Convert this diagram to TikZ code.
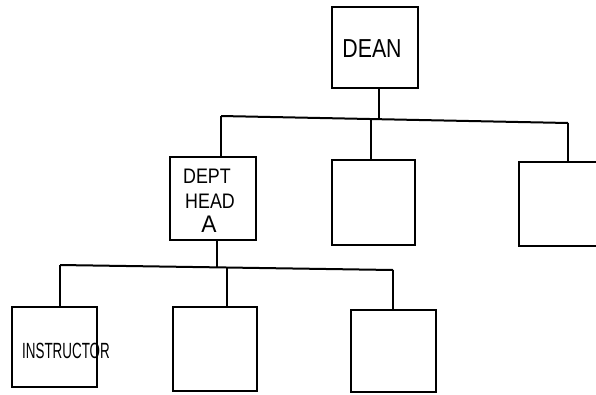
\documentclass[tikz,border=0pt]{standalone}
\usepackage{fontspec}
\setmainfont{Liberation Sans}
\newcommand\hwtext[3]{\scalebox{#1}[1]{\fontsize{#2}{#2}\selectfont #3}}
\tikzset{
  box/.style={draw=black, line width=2pt, inner sep=0pt, align=center, fill=white},
  conn/.style={draw=black, line width=2pt},
  lbl/.style={inner sep=0pt, anchor=base},
}
\begin{document}
\begin{tikzpicture}[x=1pt,y=-1pt]
\useasboundingbox (0,0) rectangle (596,394);
\clip (0,0) rectangle (596,394);
\fill[white] (0,0) rectangle (596,394);

% boxes
\node[box, minimum width=86pt, minimum height=81pt] (dean) at (375,47.5) {};
\node[box, minimum width=86pt, minimum height=83pt] (dh) at (213,198.5) {};
\node[box, minimum width=83pt, minimum height=85pt] (m1) at (373.5,202.5) {};
\node[box, minimum width=85pt, minimum height=84pt] (r1) at (561.5,204) {};
\node[box, minimum width=85pt, minimum height=80pt] (i1) at (54.5,347) {};
\node[box, minimum width=84pt, minimum height=84pt] (b2) at (215,349) {};
\node[box, minimum width=85pt, minimum height=82pt] (b3) at (393.5,351) {};

% texts
\node[lbl] (deant) at (372,57) {\hwtext{0.82}{26}{DEAN}};
\node[lbl] (dht1) at (207,183) {\hwtext{0.85}{21}{DEPT}};
\node[lbl] (dht2) at (210,208) {\hwtext{0.85}{21}{HEAD}};
\node[lbl] (dht3) at (209,232) {\hwtext{0.95}{24}{A}};
\node[lbl] (i1t) at (66,358) {\hwtext{0.61}{22}{INSTRUCTOR}};

% upper bus
\coordinate (ub1) at (221,116);
\coordinate (ub2) at (568,123);
\coordinate (uj) at (379,119.2);
\coordinate (um) at (371,119);
\draw[conn] (uj |- dean.south) -- (uj);
\draw[conn] (ub1) -- (ub2);
\draw[conn] (ub1) -- (ub1 |- dh.north);
\draw[conn] (um) -- (um |- m1.north);
\draw[conn] (ub2) -- (ub2 |- r1.north);

% lower bus
\coordinate (lb1) at (60,265);
\coordinate (lb2) at (393,270);
\coordinate (lj) at (217,267.4);
\coordinate (lm) at (227,267.5);
\draw[conn] (lj |- dh.south) -- (lj);
\draw[conn] (lb1) -- (lb2);
\draw[conn] (lb1) -- (lb1 |- i1.north);
\draw[conn] (lm) -- (lm |- b2.north);
\draw[conn] (lb2) -- (lb2 |- b3.north);
\end{tikzpicture}
\end{document}
